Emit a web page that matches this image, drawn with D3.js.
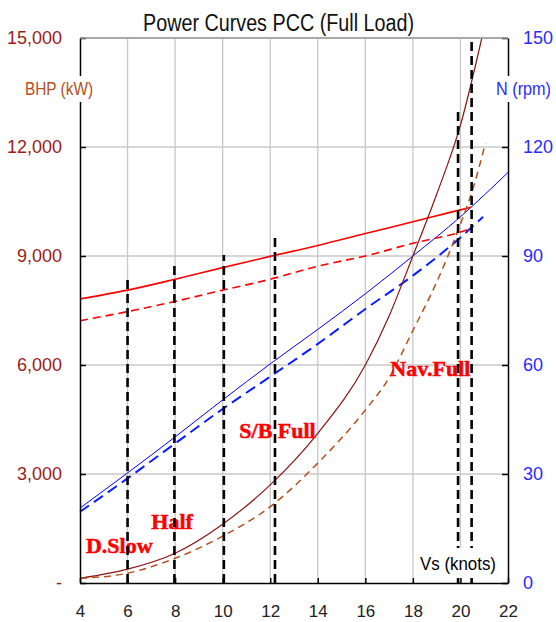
<!DOCTYPE html>
<html>
<head>
<meta charset="utf-8">
<script src="https://cdn.jsdelivr.net/npm/d3@7"></script>
<style>
  body { margin: 0; background: #fff; }
  svg { display: block; }
  text { font-family: "Liberation Sans Narrow", "Arial Narrow", "Liberation Sans", sans-serif; }
</style>
</head>
<body>
<svg id="chart"></svg>
<script>
// speed axis (knots)
const speedTicks = [4, 6, 8, 10, 12, 14, 16, 18, 20, 22];
const bhpTicks = [0, 3000, 6000, 9000, 12000, 15000];
const rpmTicks = [0, 30, 60, 90, 120, 150];

// engine rpm, full load (right axis)
const rpmFullX = [4, 6, 8, 10, 12, 14, 16, 18, 20, 20.45];
const rpmFull  = [78.2, 80.6, 83.6, 86.8, 89.9, 92.9, 96.2, 99.4, 102.7, 103.4];
// engine rpm, nav (dashed)
const rpmNavX = [4, 6, 8, 10, 12, 14, 16, 18, 20, 20.45];
const rpmNav  = [72.2, 74.7, 77.5, 80.6, 83.6, 87.2, 90.0, 93.5, 96.6, 97.6];

// blue lines (right axis)
const blueX = [4, 6, 8, 10, 12, 14, 16, 18, 20, 22];
const blue  = [20.6, 30.3, 40.2, 50.4, 60.3, 69.8, 79.6, 90.0, 100.8, 113.0];
const blueDashX = [4, 6, 8, 10, 12, 14, 16, 18, 20, 20.95];
const blueDash  = [19.6, 28.8, 38.4, 47.9, 56.8, 65.8, 75.4, 84.6, 95.1, 100.8];

// BHP curves (left axis)
const bhpFullX = [4, 6, 8, 10, 12, 14, 16, 17, 18, 19, 20, 20.9];
const bhpFull  = [130, 380, 820, 1620, 2700, 4120, 6000, 7350, 9000, 10700, 12600, 15000];
const bhpNavX = [4, 6, 8, 10, 12, 14, 16, 17, 18, 19, 20, 20.5, 21.05];
const bhpNav  = [130, 270, 680, 1290, 2100, 3300, 4760, 5650, 6950, 8280, 9880, 10800, 12100];

// operating points (vertical dashed markers)
const markerX   = [6.0, 7.97, 10.05, 12.2, 19.9, 20.47];
const markerTop = [8420, 8820, 9030, 9500, 13020, 14920];

// mode labels
const modeNames = ["D.Slow", "Half", "S/B Full", "Nav.Full"];
const modeX   = [4.25, 7.0, 10.7, 17.05];
const modeBhp = [830, 1480, 4000, 5700];

const width = 556, height = 622;
const mLeft = 80, mRight = 508, mTop = 38, mBottom = 583;

const svg = d3.select("#chart").attr("width", width).attr("height", height);

const x = d3.scaleLinear().domain([4, 22]).range([mLeft, mRight]);
const yL = d3.scaleLinear().domain([0, 15000]).range([mBottom, mTop]);
const yR = d3.scaleLinear().domain([0, 150]).range([mBottom, mTop]);

// grid
svg.append("g").selectAll("line")
    .data(speedTicks.slice(1, -1))
    .enter().append("line")
    .attr("x1", d => x(d)).attr("x2", d => x(d))
    .attr("y1", mTop).attr("y2", mBottom)
    .attr("stroke", "#c8c8c8").attr("stroke-width", 1.3);

svg.append("g").selectAll("line")
    .data(bhpTicks.slice(1))
    .enter().append("line")
    .attr("x1", mLeft).attr("x2", mRight)
    .attr("y1", d => yL(d)).attr("y2", d => yL(d))
    .attr("stroke", "#c8c8c8").attr("stroke-width", 1.3);

// series
const zipped = (xs, ys) => xs.map((v, i) => [v, ys[i]]);
function drawSeries(xs, ys, scale, color, w, dash) {
    const line = d3.line()
        .x(d => x(d[0]))
        .y(d => scale(d[1]))
        .curve(d3.curveMonotoneX);
    svg.append("path")
        .datum(zipped(xs, ys))
        .attr("d", line)
        .attr("fill", "none")
        .attr("stroke", color)
        .attr("stroke-width", w)
        .attr("stroke-dasharray", dash || null);
}

drawSeries(blueX, blue, yR, "#0000ff", 1, null);
drawSeries(blueDashX, blueDash, yR, "#0a1eff", 2, "11 6");
drawSeries(rpmFullX, rpmFull, yR, "#ff0000", 1.6, null);
drawSeries(rpmNavX, rpmNav, yR, "#ff0000", 1.6, "8 5");
drawSeries(bhpFullX, bhpFull, yL, "#8b1414", 1.2, null);
drawSeries(bhpNavX, bhpNav, yL, "#b4501e", 1.5, "7 5");

// mode labels
svg.append("g").selectAll("text")
    .data(modeNames)
    .enter().append("text")
    .attr("x", (d, i) => x(modeX[i]))
    .attr("y", (d, i) => yL(modeBhp[i]))
    .style("font-family", "'Liberation Serif', 'Times New Roman', serif")
    .style("font-weight", "bold")
    .style("font-size", "22px")
    .attr("fill", "#ff0000")
    .attr("stroke", "#ff0000")
    .attr("stroke-width", 0.5)
    .text(d => d);

// vertical operating point markers
svg.append("g").selectAll("line")
    .data(markerX)
    .enter().append("line")
    .attr("x1", d => x(d)).attr("x2", d => x(d))
    .attr("y1", mBottom).attr("y2", (d, i) => yL(markerTop[i]))
    .attr("stroke", "#000").attr("stroke-width", 2.6)
    .attr("stroke-dasharray", "9 5");

// x-axis label with white box
const vsG = svg.append("g");
vsG.append("rect").attr("x", 417).attr("y", 548).attr("width", 82).attr("height", 30).attr("fill", "#fff");
vsG.append("text").attr("x", 458).attr("y", 570).attr("text-anchor", "middle")
    .attr("textLength", 76).attr("lengthAdjust", "spacingAndGlyphs")
    .style("font-size", "18px").attr("fill", "#000").text("Vs (knots)");

// axes
const leftAxis = d3.axisLeft(yL)
    .tickValues(bhpTicks)
    .tickSizeInner(-6).tickSizeOuter(0).tickPadding(18)
    .tickFormat(d => d === 0 ? "-" : d3.format(",")(d));
const gl = svg.append("g").attr("transform", `translate(${mLeft},0)`).call(leftAxis);
gl.selectAll("text").style("font-size", "18px").attr("fill", "#9b1c1c");

const rightAxis = d3.axisRight(yR)
    .tickValues(rpmTicks)
    .tickSizeInner(-6).tickSizeOuter(0).tickPadding(15);
const gr = svg.append("g").attr("transform", `translate(${mRight},0)`).call(rightAxis);
gr.selectAll("text").style("font-size", "18px").attr("fill", "#2a2aff");

const bottomAxis = d3.axisBottom(x)
    .tickValues(speedTicks)
    .tickSizeInner(-5).tickSizeOuter(0).tickPadding(22);
const gb = svg.append("g").attr("transform", `translate(0,${mBottom})`).call(bottomAxis);
gb.selectAll("text").style("font-size", "17px").attr("fill", "#222");

[gl, gr, gb].forEach(g => {
    g.select(".domain").attr("stroke", "#000").attr("stroke-width", 1.5);
    g.selectAll(".tick line").attr("stroke", "#000").attr("stroke-width", 1.5);
});

// top border (grey, from the 15,000 grid)
svg.append("line").attr("x1", mLeft).attr("x2", mRight).attr("y1", mTop).attr("y2", mTop)
    .attr("stroke", "#9a9a9a").attr("stroke-width", 1.3);

// axis titles with white backing
const bhpG = svg.append("g");
bhpG.append("rect").attr("x", 22).attr("y", 76).attr("width", 74).attr("height", 26).attr("fill", "#fff");
bhpG.append("text").attr("x", 25).attr("y", 95)
    .attr("textLength", 68).attr("lengthAdjust", "spacingAndGlyphs")
    .style("font-size", "18px").attr("fill", "#b4501e").text("BHP (kW)");

const nG = svg.append("g");
nG.append("rect").attr("x", 494).attr("y", 76).attr("width", 60).attr("height", 26).attr("fill", "#fff");
nG.append("text").attr("x", 496).attr("y", 95)
    .attr("textLength", 55).attr("lengthAdjust", "spacingAndGlyphs")
    .style("font-size", "18px").attr("fill", "#2a2aff").text("N (rpm)");

// title
svg.append("text")
    .attr("x", 143).attr("y", 31)
    .attr("textLength", 271).attr("lengthAdjust", "spacingAndGlyphs")
    .style("font-size", "23px")
    .attr("fill", "#111")
    .text("Power Curves PCC (Full Load)");
</script>
</body>
</html>
